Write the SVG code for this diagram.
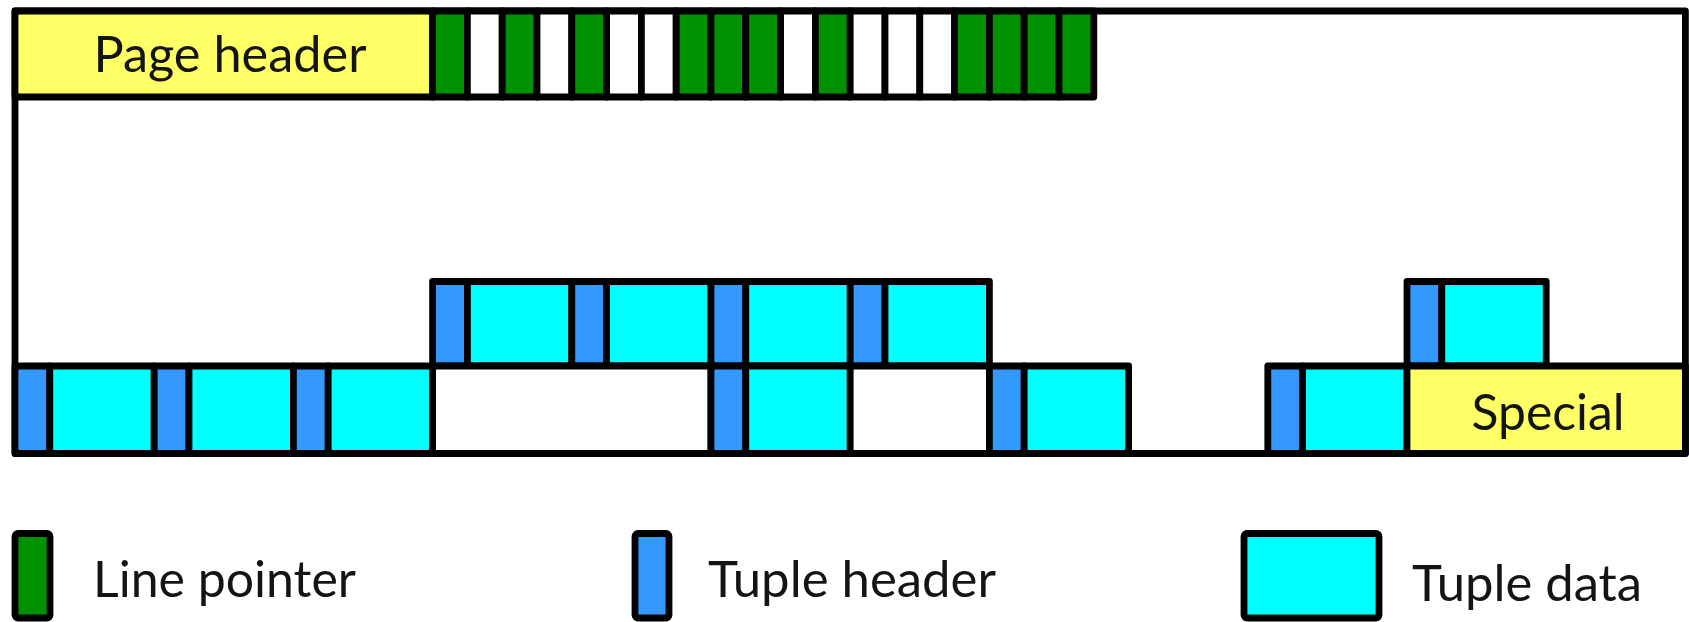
<svg xmlns="http://www.w3.org/2000/svg" width="1689" height="622" viewBox="0 0 1689 622">
  <style>
    rect { stroke: #000; stroke-width: 6.8; stroke-linejoin: round; }
    .page { fill: #ffffff; }
    .hdr { fill: #ffff66; }
    .lp { fill: #009100; }
    .free { fill: #ffffff; }
    .th { fill: #3399ff; }
    .td { fill: #00ffff; }
    text { font-family: Lato, "Liberation Sans", sans-serif; font-size: 50px; fill: #141414; }
  </style>

  <!-- page outline -->
  <g id="page">
    <rect class="page" x="15" y="11" width="1670.4" height="442.5"/>
  </g>

  <!-- page header -->
  <g id="page-header">
    <rect class="hdr" x="15" y="11" width="417.6" height="86"/>
    <text x="230" y="72" text-anchor="middle" textLength="273" lengthAdjust="spacingAndGlyphs">Page header</text>
  </g>

  <!-- line pointer array: 19 slots, pitch 34.8 -->
  <g id="line-pointers">
    <rect class="lp"   x="432.6"  y="11" width="34.8" height="86"/>
    <rect class="free" x="467.4"  y="11" width="34.8" height="86"/>
    <rect class="lp"   x="502.2"  y="11" width="34.8" height="86"/>
    <rect class="free" x="537"    y="11" width="34.8" height="86"/>
    <rect class="lp"   x="571.8"  y="11" width="34.8" height="86"/>
    <rect class="free" x="606.6"  y="11" width="34.8" height="86"/>
    <rect class="free" x="641.4"  y="11" width="34.8" height="86"/>
    <rect class="lp"   x="676.2"  y="11" width="34.8" height="86"/>
    <rect class="lp"   x="711"    y="11" width="34.8" height="86"/>
    <rect class="lp"   x="745.8"  y="11" width="34.8" height="86"/>
    <rect class="free" x="780.6"  y="11" width="34.8" height="86"/>
    <rect class="lp"   x="815.4"  y="11" width="34.8" height="86"/>
    <rect class="free" x="850.2"  y="11" width="34.8" height="86"/>
    <rect class="free" x="885"    y="11" width="34.8" height="86"/>
    <rect class="free" x="919.8"  y="11" width="34.8" height="86"/>
    <rect class="lp"   x="954.6"  y="11" width="34.8" height="86"/>
    <rect class="lp"   x="989.4"  y="11" width="34.8" height="86"/>
    <rect class="lp"   x="1024.2" y="11" width="34.8" height="86"/>
    <rect class="lp"   x="1059"   y="11" width="34.8" height="86"/>
  </g>

  <!-- upper tuple row -->
  <g id="tuple-u1"><rect class="th" x="432.6" y="281.5" width="34.8" height="84.5"/><rect class="td" x="467.4" y="281.5" width="104.4" height="84.5"/></g>
  <g id="tuple-u2"><rect class="th" x="571.8" y="281.5" width="34.8" height="84.5"/><rect class="td" x="606.6" y="281.5" width="104.4" height="84.5"/></g>
  <g id="tuple-u3"><rect class="th" x="711" y="281.5" width="34.8" height="84.5"/><rect class="td" x="745.8" y="281.5" width="104.4" height="84.5"/></g>
  <g id="tuple-u4"><rect class="th" x="850.2" y="281.5" width="34.8" height="84.5"/><rect class="td" x="885" y="281.5" width="104.4" height="84.5"/></g>
  <g id="tuple-u5"><rect class="th" x="1407" y="281.5" width="34.8" height="84.5"/><rect class="td" x="1441.8" y="281.5" width="104.4" height="84.5"/></g>

  <!-- lower tuple row -->
  <g id="tuple-l1"><rect class="th" x="15" y="366" width="34.8" height="87.5"/><rect class="td" x="49.8" y="366" width="104.4" height="87.5"/></g>
  <g id="tuple-l2"><rect class="th" x="154.2" y="366" width="34.8" height="87.5"/><rect class="td" x="189" y="366" width="104.4" height="87.5"/></g>
  <g id="tuple-l3"><rect class="th" x="293.4" y="366" width="34.8" height="87.5"/><rect class="td" x="328.2" y="366" width="104.4" height="87.5"/></g>
  <g id="free-l1"><rect class="free" x="432.6" y="366" width="278.4" height="87.5"/></g>
  <g id="tuple-l4"><rect class="th" x="711" y="366" width="34.8" height="87.5"/><rect class="td" x="745.8" y="366" width="104.4" height="87.5"/></g>
  <g id="free-l2"><rect class="free" x="850.2" y="366" width="139.2" height="87.5"/></g>
  <g id="tuple-l5"><rect class="th" x="989.4" y="366" width="34.8" height="87.5"/><rect class="td" x="1024.2" y="366" width="104.4" height="87.5"/></g>
  <g id="tuple-l6"><rect class="th" x="1267.8" y="366" width="34.8" height="87.5"/><rect class="td" x="1302.6" y="366" width="104.4" height="87.5"/></g>

  <!-- special space -->
  <g id="special">
    <rect class="hdr" x="1407" y="366" width="278.4" height="87.5"/>
    <text x="1548" y="430" text-anchor="middle" textLength="153" lengthAdjust="spacingAndGlyphs">Special</text>
  </g>

  <!-- legend -->
  <g id="legend-line-pointer">
    <rect class="lp" x="15" y="533.5" width="35" height="84.5" rx="3"/>
    <text x="93" y="597" textLength="263" lengthAdjust="spacingAndGlyphs">Line pointer</text>
  </g>
  <g id="legend-tuple-header">
    <rect class="th" x="635" y="533.5" width="34" height="84.5" rx="3"/>
    <text x="708" y="597" textLength="288" lengthAdjust="spacingAndGlyphs">Tuple header</text>
  </g>
  <g id="legend-tuple-data">
    <rect class="td" x="1244" y="533.5" width="135" height="84.5" rx="3"/>
    <text x="1412" y="601" textLength="230" lengthAdjust="spacingAndGlyphs">Tuple data</text>
  </g>
</svg>
